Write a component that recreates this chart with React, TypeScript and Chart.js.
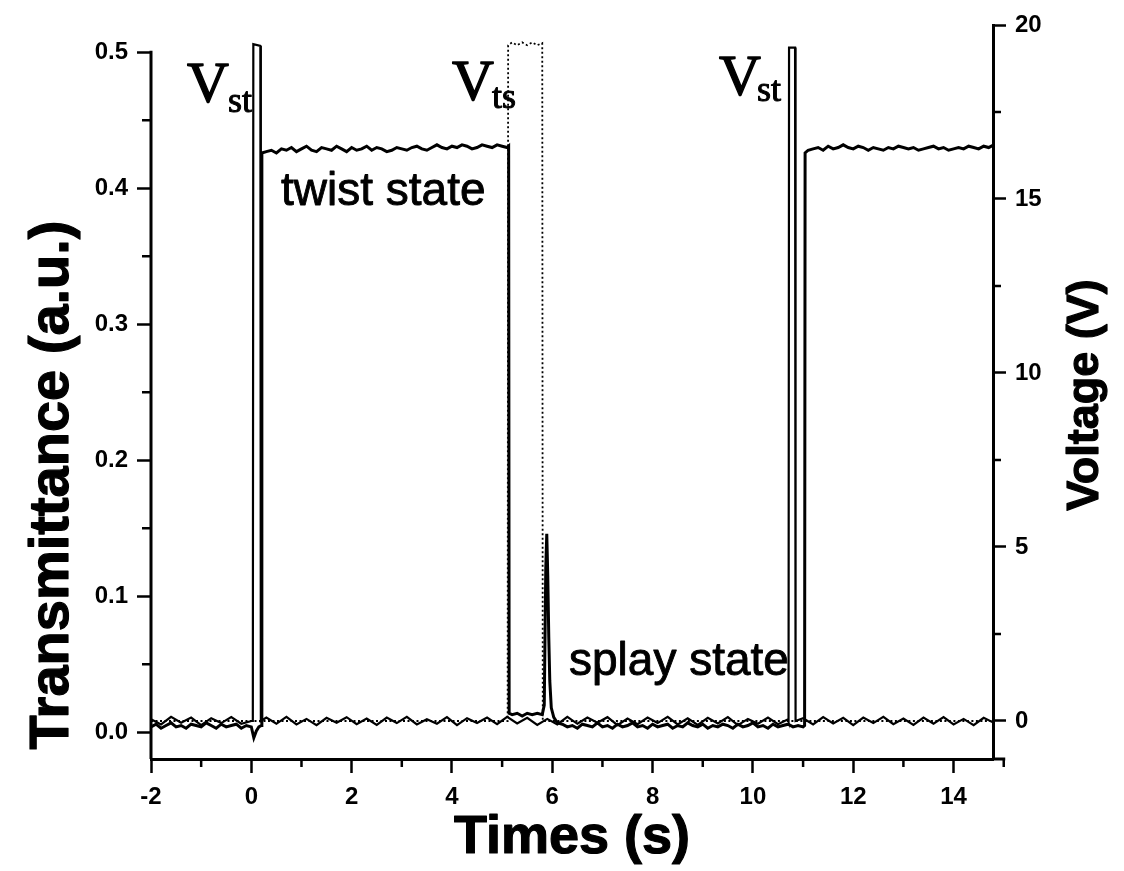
import React, { useEffect, useRef } from 'react';
import { Chart, registerables } from 'chart.js';

Chart.register(...registerables);

// ---- axis ticks ----
const xTicks = [-2, 0, 2, 4, 6, 8, 10, 12, 14];
const xMinorTicks = [-1, 1, 3, 5, 7, 9, 11, 13, 15];
const transTicks = [0, 0.1, 0.2, 0.3, 0.4, 0.5];
const transMinorTicks = [0.05, 0.15, 0.25, 0.35, 0.45];
const voltTicks = [0, 5, 10, 15, 20];
const voltMinorTicks = [2.5, 7.5, 12.5, 17.5];

// ---- transmittance (a.u.) ----
const transPreTimes = [-2.0, -1.9, -1.8, -1.7, -1.6, -1.5, -1.4, -1.3, -1.2, -1.1, -1.0, -0.9, -0.8, -0.7, -0.6, -0.5, -0.4, -0.3, -0.2, -0.1, 0.0];
const transPreValues = [0.004, 0.006, 0.003, 0.005, 0.007, 0.004, 0.005, 0.003, 0.006, 0.005, 0.004, 0.007, 0.005, 0.003, 0.006, 0.004, 0.005, 0.006, 0.003, 0.005, 0.004];
const transRise1Times = [0.05, 0.10, 0.15, 0.20, 0.21];
const transRise1Values = [-0.004, 0.001, 0.004, 0.005, 0.426];
const twist1Times = [0.3, 0.4, 0.5, 0.6, 0.7, 0.8, 0.9, 1.0, 1.1, 1.2, 1.3, 1.4, 1.5, 1.6, 1.7, 1.8, 1.9, 2.0, 2.1, 2.2, 2.3, 2.4, 2.5, 2.6, 2.7, 2.8, 2.9, 3.0, 3.1, 3.2, 3.3, 3.4, 3.5, 3.6, 3.7, 3.8, 3.9, 4.0, 4.1, 4.2, 4.3, 4.4, 4.5, 4.6, 4.7, 4.8, 4.9, 5.0, 5.1];
const twist1Values = [
  0.427, 0.428, 0.426, 0.429, 0.428, 0.430, 0.427, 0.429, 0.431, 0.428,
  0.427, 0.430, 0.429, 0.428, 0.431, 0.429, 0.427, 0.430, 0.428, 0.429,
  0.431, 0.428, 0.430, 0.429, 0.427, 0.428, 0.430, 0.429, 0.428, 0.430,
  0.431, 0.429, 0.428, 0.430, 0.432, 0.430, 0.429, 0.431, 0.430, 0.432,
  0.431, 0.429, 0.430, 0.432, 0.431, 0.430, 0.432, 0.431, 0.430,
];
const dropTimes = [5.13, 5.14, 5.2, 5.3, 5.4, 5.5, 5.6, 5.7, 5.8];
const dropValues = [0.431, 0.014, 0.013, 0.014, 0.012, 0.014, 0.013, 0.014, 0.013];
const splayPeakTimes = [5.84, 5.87, 5.89, 5.91, 5.93, 5.95, 5.98, 6.03, 6.1];
const splayPeakValues = [0.02, 0.12, 0.146, 0.115, 0.07, 0.038, 0.018, 0.011, 0.007];
const splayTimes = [6.2, 6.3, 6.4, 6.5, 6.6, 6.7, 6.8, 6.9, 7.0, 7.1, 7.2, 7.3, 7.4, 7.5, 7.6, 7.7, 7.8, 7.9, 8.0, 8.1, 8.2, 8.3, 8.4, 8.5, 8.6, 8.7, 8.8, 8.9, 9.0, 9.1, 9.2, 9.3, 9.4, 9.5, 9.6, 9.7, 9.8, 9.9, 10.0, 10.1, 10.2, 10.3, 10.4, 10.5, 10.6, 10.7, 10.8, 10.9, 11.0];
const splayValues = [
  0.006, 0.004, 0.005, 0.003, 0.006, 0.005, 0.004, 0.007, 0.004, 0.005,
  0.003, 0.006, 0.004, 0.005, 0.007, 0.004, 0.005, 0.003, 0.006, 0.004,
  0.005, 0.006, 0.003, 0.005, 0.004, 0.007, 0.005, 0.004, 0.006, 0.003,
  0.005, 0.004, 0.006, 0.005, 0.003, 0.006, 0.004, 0.005, 0.007, 0.004,
  0.005, 0.003, 0.006, 0.004, 0.005, 0.006, 0.004, 0.005, 0.004,
];
const transRise2Times = [11.03, 11.04];
const transRise2Values = [0.005, 0.426];
const twist2Times = [11.1, 11.2, 11.3, 11.4, 11.5, 11.6, 11.7, 11.8, 11.9, 12.0, 12.1, 12.2, 12.3, 12.4, 12.5, 12.6, 12.7, 12.8, 12.9, 13.0, 13.1, 13.2, 13.3, 13.4, 13.5, 13.6, 13.7, 13.8, 13.9, 14.0, 14.1, 14.2, 14.3, 14.4, 14.5, 14.6, 14.7, 14.8, 14.9, 15.0];
const twist2Values = [
  0.428, 0.429, 0.430, 0.428, 0.431, 0.429, 0.430, 0.432, 0.430, 0.429,
  0.431, 0.430, 0.428, 0.430, 0.429, 0.428, 0.430, 0.429, 0.431, 0.430,
  0.429, 0.430, 0.428, 0.429, 0.430, 0.431, 0.429, 0.430, 0.428, 0.429,
  0.430, 0.429, 0.431, 0.430, 0.429, 0.431, 0.430, 0.432, 0.431, 0.433,
];

// ---- V_st voltage (V) ----
const vstPreTimes = [-2.0, -1.8, -1.6, -1.4, -1.2, -1.0, -0.8, -0.6, -0.4, -0.2, 0.0];
const vstPreValues = [0.05, -0.1, 0.12, -0.05, 0.1, -0.12, 0.08, -0.06, 0.11, -0.08, 0.0];
const vstPulse1Times = [0.03, 0.04, 0.18, 0.19];
const vstPulse1Values = [0, 19.45, 19.4, 0];
const vstMidTimes = [0.3, 0.5, 0.7, 0.9, 1.1, 1.3, 1.5, 1.7, 1.9, 2.1, 2.3, 2.5, 2.7, 2.9, 3.1, 3.3, 3.5, 3.7, 3.9, 4.1, 4.3, 4.5, 4.7, 4.9, 5.1, 5.3, 5.5, 5.7, 5.9, 6.1, 6.3, 6.5, 6.7, 6.9, 7.1, 7.3, 7.5, 7.7, 7.9, 8.1, 8.3, 8.5, 8.7, 8.9, 9.1, 9.3, 9.5, 9.7, 9.9, 10.1, 10.3, 10.5, 10.7];
const vstMidValues = [
  0.1, -0.08, 0.12, -0.1, 0.06, -0.12, 0.09, -0.05, 0.11, -0.09,
  0.07, -0.11, 0.1, -0.06, 0.12, -0.1, 0.05, -0.08, 0.11, -0.12,
  0.08, -0.06, 0.1, -0.09, 0.12, -0.07, 0.09, -0.11, 0.06, -0.1,
  0.12, -0.08, 0.1, -0.05, 0.11, -0.12, 0.07, -0.09, 0.1, -0.06,
  0.12, -0.1, 0.08, -0.11, 0.09, -0.07, 0.11, -0.12, 0.06, -0.08,
  0.1, -0.09, 0.05,
];
const vstPulse2Times = [10.71, 10.72, 10.84, 10.85];
const vstPulse2Values = [0, 19.35, 19.35, 0];
const vstPostTimes = [11.0, 11.2, 11.4, 11.6, 11.8, 12.0, 12.2, 12.4, 12.6, 12.8, 13.0, 13.2, 13.4, 13.6, 13.8, 14.0, 14.2, 14.4, 14.6, 14.8];
const vstPostValues = [0.08, -0.1, 0.11, -0.07, 0.09, -0.12, 0.1, -0.06, 0.12, -0.09, 0.07, -0.11, 0.1, -0.08, 0.11, -0.1, 0.06, -0.12, 0.09, -0.05];

// ---- V_ts voltage (V), dotted ----
const vtsTimes = [-2.0, 5.11, 5.12, 5.2, 5.3, 5.4, 5.5, 5.6, 5.7, 5.8, 5.81, 14.8];
const vtsValues = [0, 0, 19.42, 19.5, 19.42, 19.5, 19.42, 19.5, 19.42, 19.48, 0, 0];

const toPoints = (times: number[][], values: number[][]) => {
  const pts: { x: number; y: number }[] = [];
  times.forEach((seg, i) => seg.forEach((t, j) => pts.push({ x: t, y: values[i][j] })));
  return pts;
};

const SANS = "'Liberation Sans', Arial, Helvetica, sans-serif";
const SERIF = "'Liberation Serif', 'Times New Roman', serif";

const decorPlugin = {
  id: 'decor',
  afterDraw(chart: any) {
    const { ctx, chartArea, scales } = chart;
    const x = scales.x;
    const yT = scales.yT;
    const yV = scales.yV;
    ctx.save();
    ctx.strokeStyle = '#000';
    ctx.fillStyle = '#000';
    ctx.lineCap = 'butt';
    ctx.lineJoin = 'round';
    // left axis line (only from 0.5 down)
    ctx.lineWidth = 3;
    ctx.beginPath();
    ctx.moveTo(chartArea.left, yT.getPixelForValue(0.5) - 1.5);
    ctx.lineTo(chartArea.left, chartArea.bottom);
    ctx.stroke();
    // bottom axis extension out to 15 s
    ctx.beginPath();
    ctx.moveTo(chartArea.right, chartArea.bottom);
    ctx.lineTo(x.getPixelForValue(15) + 1.5, chartArea.bottom);
    ctx.stroke();
    // minor ticks
    ctx.lineWidth = 2.5;
    ctx.beginPath();
    xMinorTicks.forEach((v) => {
      const px = x.getPixelForValue(v);
      ctx.moveTo(px, chartArea.bottom);
      ctx.lineTo(px, chartArea.bottom + 8);
    });
    transMinorTicks.forEach((v) => {
      const py = yT.getPixelForValue(v);
      ctx.moveTo(chartArea.left, py);
      ctx.lineTo(chartArea.left - 9, py);
    });
    voltMinorTicks.forEach((v) => {
      const py = yV.getPixelForValue(v);
      ctx.moveTo(chartArea.right, py);
      ctx.lineTo(chartArea.right + 8, py);
    });
    ctx.stroke();

    const text = (s: string, px: number, py: number, w: number) => {
      ctx.fillText(s, px, py);
      if (w > 0) {
        ctx.lineWidth = w;
        ctx.strokeText(s, px, py);
      }
    };

    // annotations
    ctx.textBaseline = 'alphabetic';
    ctx.textAlign = 'left';
    const label = (main: string, sub: string, px: number, py: number, sx: number, sy: number) => {
      ctx.font = `58px ${SERIF}`;
      text(main, px, py, 1.4);
      ctx.font = `36px ${SERIF}`;
      text(sub, sx, sy, 1);
    };
    label('V', 'st', 187, 102, 228, 112);
    label('V', 'ts', 452, 100, 492, 108);
    label('V', 'st', 719, 95, 757, 101);

    ctx.font = `46px ${SANS}`;
    text('twist state', 281, 205, 0.9);
    text('splay state', 569, 675, 0.9);

    // axis titles
    ctx.font = `bold 54px ${SANS}`;
    ctx.textAlign = 'center';
    ctx.textBaseline = 'alphabetic';
    text('Times (s)', 572, 853, 1.2);
    ctx.textBaseline = 'middle';
    ctx.save();
    ctx.font = `bold 56px ${SANS}`;
    ctx.translate(53, 485);
    ctx.rotate(-Math.PI / 2);
    text('Transmittance (a.u.)', 0, 0, 1.2);
    ctx.restore();
    ctx.save();
    ctx.font = `bold 45px ${SANS}`;
    ctx.translate(1086, 395);
    ctx.rotate(-Math.PI / 2);
    text('Voltage (V)', 0, 0, 1.2);
    ctx.restore();
    ctx.restore();
  },
};

export default function App() {
  const canvasRef = useRef<HTMLCanvasElement | null>(null);

  useEffect(() => {
    if (!canvasRef.current) return;
    Chart.defaults.font.family = SANS;
    const transData = toPoints(
      [transPreTimes, transRise1Times, twist1Times, dropTimes, splayPeakTimes, splayTimes, transRise2Times, twist2Times],
      [transPreValues, transRise1Values, twist1Values, dropValues, splayPeakValues, splayValues, transRise2Values, twist2Values]
    );
    const vstData = toPoints(
      [vstPreTimes, vstPulse1Times, vstMidTimes, vstPulse2Times, vstPostTimes],
      [vstPreValues, vstPulse1Values, vstMidValues, vstPulse2Values, vstPostValues]
    );
    const vtsData = toPoints([vtsTimes], [vtsValues]);

    const tickFont = { size: 24, family: SANS, weight: 'bold' as const };
    const chart = new Chart(canvasRef.current, {
      type: 'line',
      data: {
        datasets: [
          {
            label: 'V_ts',
            data: vtsData,
            yAxisID: 'yV',
            borderColor: '#000',
            borderWidth: 1.8,
            borderDash: [2, 2.5],
            pointRadius: 0,
            tension: 0,
          },
          {
            label: 'V_st',
            data: vstData,
            yAxisID: 'yV',
            borderColor: '#000',
            borderWidth: 2.2,
            pointRadius: 0,
            tension: 0,
          },
          {
            label: 'Transmittance',
            data: transData,
            yAxisID: 'yT',
            borderColor: '#000',
            borderWidth: 3,
            pointRadius: 0,
            tension: 0,
            clip: { left: 2, top: 2, right: 14, bottom: 2 } as any,
          },
        ],
      },
      options: {
        responsive: false,
        animation: false,
        events: [],
        layout: { padding: { left: 0, right: 0, top: 25, bottom: 0 } },
        plugins: { legend: { display: false }, tooltip: { enabled: false } },
        scales: {
          x: {
            type: 'linear',
            min: -2,
            max: 14.786,
            afterBuildTicks: (s: any) => {
              s.ticks = xTicks.map((v) => ({ value: v }));
            },
            afterFit: (s: any) => {
              s.height = 112;
            },
            ticks: {
              autoSkip: false,
              maxRotation: 0,
              color: '#000',
              font: tickFont,
              padding: 10,
              callback: (v: any) => String(v),
            },
            grid: { drawOnChartArea: false, drawTicks: true, tickLength: 14, tickWidth: 2.5, tickColor: '#000' },
            border: { display: true, color: '#000', width: 3 },
          },
          yT: {
            type: 'linear',
            position: 'left',
            min: -0.0196,
            max: 0.5201,
            afterBuildTicks: (s: any) => {
              s.ticks = transTicks.map((v) => ({ value: v }));
            },
            afterFit: (s: any) => {
              s.width = 151;
            },
            ticks: {
              color: '#000',
              font: tickFont,
              padding: 9,
              callback: (v: any) => Number(v).toFixed(1),
            },
            grid: { drawOnChartArea: false, drawTicks: true, tickLength: 14, tickWidth: 2.5, tickColor: '#000' },
            border: { display: false },
          },
          yV: {
            type: 'linear',
            position: 'right',
            min: -1.092,
            max: 20,
            afterBuildTicks: (s: any) => {
              s.ticks = voltTicks.map((v) => ({ value: v }));
            },
            afterFit: (s: any) => {
              s.width = 131;
            },
            ticks: {
              color: '#000',
              font: tickFont,
              padding: 9,
              callback: (v: any) => String(v),
            },
            grid: { drawOnChartArea: false, drawTicks: true, tickLength: 13, tickWidth: 2.5, tickColor: '#000' },
            border: { display: true, color: '#000', width: 3 },
          },
        },
      },
      plugins: [decorPlugin],
    });
    return () => chart.destroy();
  }, []);

  return (
    <div style={{ position: 'absolute', left: 0, top: 0, width: 1124, height: 871, background: '#fff' }}>
      <canvas ref={canvasRef} width={1124} height={871} style={{ display: 'block' }} />
    </div>
  );
}
